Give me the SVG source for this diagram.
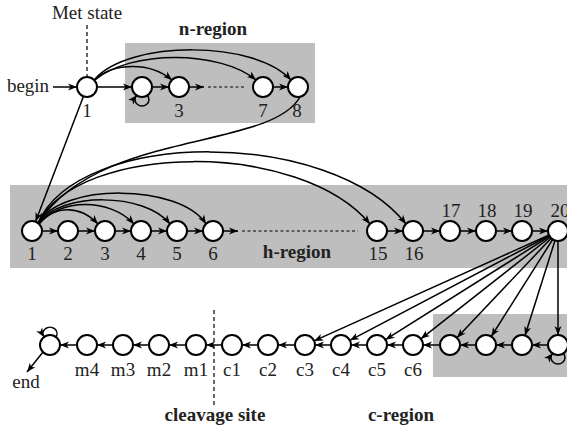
<svg xmlns="http://www.w3.org/2000/svg" width="567" height="430" viewBox="0 0 567 430">
<defs>
<marker id="ah" markerWidth="10" markerHeight="8" refX="9" refY="4" orient="auto" markerUnits="userSpaceOnUse"><path d="M0,0.5 L9,4 L0,7.5 L2.5,4 z" fill="#000"/></marker>
<style>
.n{fill:#fff;stroke:#000;stroke-width:2}
.c{fill:none;stroke:#000;stroke-width:1.5;marker-end:url(#ah)}
.p{fill:none;stroke:#000;stroke-width:1.5}
.d{fill:none;stroke:#000;stroke-width:1.2;stroke-dasharray:4,3}
.dot{fill:none;stroke:#000;stroke-width:1.2;stroke-dasharray:3,2.5}
.box{fill:#bebebe}
text{font-family:"Liberation Serif","Times New Roman",serif;font-size:19px;fill:#222;text-anchor:middle}
.b{font-weight:bold}
</style>
</defs>
<rect class="box" x="125" y="43" width="190" height="80"/>
<rect class="box" x="10" y="185" width="557" height="83"/>
<rect class="box" x="433" y="314" width="134" height="63"/>
<line class="d" x1="87" y1="25" x2="87" y2="76"/>
<line class="d" x1="214" y1="310" x2="214" y2="407"/>
<text x="87" y="19">Met state</text>
<text class="b" x="213" y="35">n-region</text>
<text class="b" x="297" y="258">h-region</text>
<text class="b" x="215" y="421">cleavage site</text>
<text class="b" x="401" y="421">c-region</text>
<text x="28" y="92">begin</text>
<text x="26" y="388">end</text>
<g id="connectors">
<line class="c" x1="53" y1="87" x2="77" y2="87"/>
<line class="c" x1="97" y1="87" x2="132" y2="87"/>
<line class="c" x1="152" y1="87" x2="169" y2="87"/>
<line class="c" x1="189" y1="87" x2="204" y2="87"/>
<line class="dot" x1="208" y1="87" x2="246" y2="87"/>
<line class="c" x1="273" y1="87" x2="288" y2="87"/>
<path class="c" d="M147.5,95.5 A7 6.5 0 1 1 136.5,95.5"/>
<path class="c" d="M94,80 C115,62 150,62 172,80"/>
<path class="c" d="M95,80 C130,50 220,50 256,80"/>
<path class="c" d="M95,79 C130,40 255,40 291,80"/>
<line class="c" x1="83.4" y1="96.4" x2="35.6" y2="221.6"/>
<path class="c" d="M300,97 C270,150 100,130 39,222"/>
<line class="c" x1="42" y1="231" x2="58" y2="231"/>
<line class="c" x1="78" y1="231" x2="95" y2="231"/>
<line class="c" x1="115" y1="231" x2="131" y2="231"/>
<line class="c" x1="151" y1="231" x2="167" y2="231"/>
<line class="c" x1="187" y1="231" x2="203" y2="231"/>
<line class="c" x1="223" y1="231" x2="238" y2="231"/>
<line class="dot" x1="242" y1="231" x2="358" y2="231"/>
<line class="c" x1="387" y1="231" x2="403" y2="231"/>
<line class="c" x1="423" y1="231" x2="440" y2="231"/>
<line class="c" x1="460" y1="231" x2="476" y2="231"/>
<line class="c" x1="496" y1="231" x2="512" y2="231"/>
<line class="c" x1="532" y1="231" x2="548" y2="231"/>
<path class="c" d="M39,224 C55,205 80,205 98,224"/>
<path class="c" d="M39,224 C60,198 110,198 134,224"/>
<path class="c" d="M39,223 C60,192 145,192 170,224"/>
<path class="c" d="M39,223 C60,183 180,183 206,224"/>
<path class="c" d="M38,223 C80,142 300,140 370,224"/>
<path class="c" d="M38,223 C80,128 330,128 406,224"/>
<line class="c" x1="558" y1="231" x2="314.1" y2="340.9"/>
<line class="c" x1="558" y1="231" x2="349.9" y2="340.3"/>
<line class="c" x1="558" y1="231" x2="385.5" y2="339.7"/>
<line class="c" x1="558" y1="231" x2="420.9" y2="338.8"/>
<line class="c" x1="558" y1="231" x2="456.9" y2="337.7"/>
<line class="c" x1="558" y1="231" x2="491.3" y2="336.5"/>
<line class="c" x1="558" y1="231" x2="525" y2="335.5"/>
<line class="c" x1="558" y1="231" x2="558" y2="335"/>
<line class="c" x1="548" y1="345" x2="532" y2="345"/>
<line class="c" x1="512" y1="345" x2="496" y2="345"/>
<line class="c" x1="476" y1="345" x2="460" y2="345"/>
<line class="c" x1="440" y1="345" x2="423" y2="345"/>
<line class="c" x1="403" y1="345" x2="387" y2="345"/>
<line class="c" x1="367" y1="345" x2="351" y2="345"/>
<line class="c" x1="331" y1="345" x2="315" y2="345"/>
<line class="c" x1="295" y1="345" x2="278" y2="345"/>
<line class="c" x1="258" y1="345" x2="242" y2="345"/>
<line class="c" x1="222" y1="345" x2="206" y2="345"/>
<line class="c" x1="186" y1="345" x2="169" y2="345"/>
<line class="c" x1="149" y1="345" x2="133" y2="345"/>
<line class="c" x1="113" y1="345" x2="97" y2="345"/>
<line class="c" x1="77" y1="345" x2="60" y2="345"/>
<path class="c" d="M56,337 A7 6.5 0 1 0 44,337"/>
<path class="c" d="M563.5,353.5 A7 6.5 0 1 1 552.5,353.5"/>
<line class="c" x1="43" y1="352" x2="27" y2="372"/>
</g>
<g id="t1"><circle class="n" cx="87" cy="87" r="10"/><text x="87" y="117">1</text></g>
<g id="t2"><circle class="n" cx="142" cy="87" r="10"/></g>
<g id="t3"><circle class="n" cx="179" cy="87" r="10"/><text x="179" y="117">3</text></g>
<g id="t7"><circle class="n" cx="263" cy="87" r="10"/><text x="263" y="117">7</text></g>
<g id="t8"><circle class="n" cx="298" cy="87" r="10"/><text x="297" y="117">8</text></g>
<g id="h1"><circle class="n" cx="32" cy="231" r="10"/><text x="32" y="260">1</text></g>
<g id="h2"><circle class="n" cx="68" cy="231" r="10"/><text x="68" y="260">2</text></g>
<g id="h3"><circle class="n" cx="105" cy="231" r="10"/><text x="105" y="260">3</text></g>
<g id="h4"><circle class="n" cx="141" cy="231" r="10"/><text x="141" y="260">4</text></g>
<g id="h5"><circle class="n" cx="177" cy="231" r="10"/><text x="177" y="260">5</text></g>
<g id="h6"><circle class="n" cx="213" cy="231" r="10"/><text x="213" y="260">6</text></g>
<g id="h15"><circle class="n" cx="377" cy="231" r="10"/><text x="378" y="260">15</text></g>
<g id="h16"><circle class="n" cx="413" cy="231" r="10"/><text x="414" y="260">16</text></g>
<g id="h17"><circle class="n" cx="450" cy="231" r="10"/><text x="451" y="217">17</text></g>
<g id="h18"><circle class="n" cx="486" cy="231" r="10"/><text x="487" y="217">18</text></g>
<g id="h19"><circle class="n" cx="522" cy="231" r="10"/><text x="523" y="217">19</text></g>
<g id="h20"><circle class="n" cx="558" cy="231" r="10"/><text x="560" y="217">20</text></g>
<g id="e"><circle class="n" cx="50" cy="345" r="10"/></g>
<g id="m4"><circle class="n" cx="87" cy="345" r="10"/><text x="87" y="376">m4</text></g>
<g id="m3"><circle class="n" cx="123" cy="345" r="10"/><text x="123" y="376">m3</text></g>
<g id="m2"><circle class="n" cx="159" cy="345" r="10"/><text x="159" y="376">m2</text></g>
<g id="m1"><circle class="n" cx="196" cy="345" r="10"/><text x="196" y="376">m1</text></g>
<g id="c1"><circle class="n" cx="232" cy="345" r="10"/><text x="232" y="376">c1</text></g>
<g id="c2"><circle class="n" cx="268" cy="345" r="10"/><text x="268" y="376">c2</text></g>
<g id="c3"><circle class="n" cx="305" cy="345" r="10"/><text x="305" y="376">c3</text></g>
<g id="c4"><circle class="n" cx="341" cy="345" r="10"/><text x="341" y="376">c4</text></g>
<g id="c5"><circle class="n" cx="377" cy="345" r="10"/><text x="377" y="376">c5</text></g>
<g id="c6"><circle class="n" cx="413" cy="345" r="10"/><text x="413" y="376">c6</text></g>
<g id="g1"><circle class="n" cx="450" cy="345" r="10"/></g>
<g id="g2"><circle class="n" cx="486" cy="345" r="10"/></g>
<g id="g3"><circle class="n" cx="522" cy="345" r="10"/></g>
<g id="g4"><circle class="n" cx="558" cy="345" r="10"/></g>
</svg>
